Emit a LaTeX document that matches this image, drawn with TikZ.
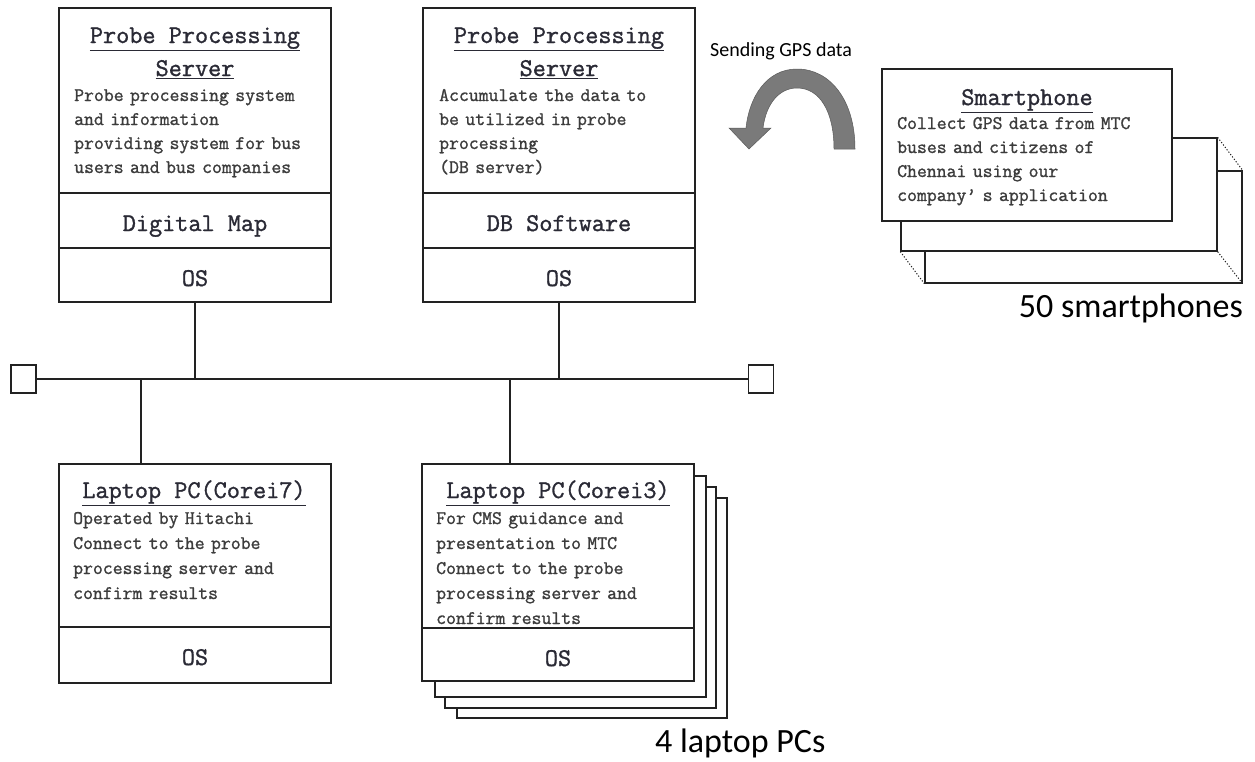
\documentclass[tikz,border=0pt]{standalone}
\usepackage{fontspec}
\setmonofont{Latin Modern Mono}
\newfontfamily\monob[FakeBold=1.2]{Latin Modern Mono}
\newfontfamily\calib{Carlito}
\definecolor{ln}{HTML}{222222}
\definecolor{tx}{HTML}{3C3C3C}
\definecolor{ttl}{HTML}{2A2A35}
\definecolor{arr}{HTML}{7A7A7A}
\definecolor{arredge}{HTML}{5A5A5A}
\begin{document}
\begin{tikzpicture}[x=1pt,y=-1pt,
  box/.style={draw=ln, line width=1.3pt, fill=white, inner sep=0pt},
  divider/.style={draw=ln, line width=1.3pt},
  wire/.style={draw=ln, line width=1.2pt},
  dotline/.style={draw=ln, line width=1pt, dash pattern=on 1.2pt off 1.8pt},
  titletxt/.style={font=\monob\fontsize{25.5}{33}\selectfont, text=ttl, inner sep=0pt, anchor=base},
  bodytxt/.style={font=\monob\fontsize{19.2}{24}\selectfont, text=tx, inner sep=0pt, anchor=base west, text width=300pt, align=left},
  labeltxt/.style={font=\calib\fontsize{34}{40}\selectfont, text=black, inner sep=0pt},
  term/.style={draw=ln, line width=1.2pt, fill=white, minimum width=25pt, minimum height=28pt, inner sep=0pt}
]
\useasboundingbox (0,0) rectangle (1255,761);

% ---------- Server 1 ----------
\node[box, minimum width=272pt, minimum height=294pt] (s1) at (195,155) {};
\node[titletxt] (s1t1) at (195,43) {\underline{Probe Processing}};
\node[titletxt] (s1t2) at (195,76) {\underline{Server}};
\node[bodytxt] (s1b) at (74,101) {Probe processing system\\and information\\providing system for bus\\users and bus companies};
\draw[divider] (59,193) -- (331,193);
\draw[divider] (59,248) -- (331,248);
\node[titletxt] (s1m) at (195,231) {Digital Map};
\node[titletxt] (s1o) at (195,286) {OS};

% ---------- Server 2 ----------
\node[box, minimum width=272pt, minimum height=294pt] (s2) at (559,155) {};
\node[titletxt] (s2t1) at (559,43) {\underline{Probe Processing}};
\node[titletxt] (s2t2) at (559,76) {\underline{Server}};
\node[bodytxt] (s2b) at (439,101) {Accumulate the data to\\be utilized in probe\\processing\\(DB server)};
\draw[divider] (423,193) -- (695,193);
\draw[divider] (423,248) -- (695,248);
\node[titletxt] (s2m) at (559,231) {DB Software};
\node[titletxt] (s2o) at (559,286) {OS};

% ---------- Bus ----------
\node[term] (lsq) at (23.5,379) {};
\node[term] (rsq) at (761,379) {};
\draw[wire] (lsq.east) -- (rsq.west);
\draw[wire] (s1.south) -- (s1.south |- lsq.east);
\draw[wire] (s2.south) -- (s2.south |- lsq.east);
\coordinate (d1) at (141,379);
\coordinate (d2) at (510,379);

% ---------- Laptop 1 ----------
\node[box, minimum width=272pt, minimum height=219pt] (l1) at (195,573.5) {};
\draw[wire] (d1) -- (d1 |- l1.north);
\node[titletxt] (l1t) at (194,498) {\underline{Laptop PC(Corei7)}};
\node[bodytxt, font=\monob\fontsize{19.2}{25}\selectfont] (l1b) at (73,524) {Operated by Hitachi\\Connect to the probe\\processing server and\\confirm results};
\draw[divider] (59,627) -- (331,627);
\node[titletxt] (l1o) at (195,665) {OS};

% ---------- Laptop 2 stack ----------
\node[box, minimum width=270pt, minimum height=220pt] (l2d) at (592,608) {};
\node[box, minimum width=271pt, minimum height=221pt] (l2c) at (580.5,597.5) {};
\node[box, minimum width=271pt, minimum height=221pt] (l2b) at (570.5,586.5) {};
\node[box, minimum width=272pt, minimum height=217pt] (l2) at (558,572.5) {};
\draw[wire] (d2) -- (d2 |- l2.north);
\node[titletxt] (l2t) at (558,498) {\underline{Laptop PC(Corei3)}};
\node[bodytxt, font=\monob\fontsize{19.2}{25}\selectfont] (l2bt) at (436,524) {For CMS guidance and\\presentation to MTC\\Connect to the probe\\processing server and\\confirm results};
\draw[divider] (422,628) -- (694,628);
\node[titletxt] (l2o) at (558,666) {OS};
\node[labeltxt, anchor=base west] (l2lab) at (655,752) {4 laptop PCs};

% ---------- Smartphone stack ----------
\node[box, minimum width=317pt, minimum height=112pt] (p3) at (1083.5,227) {};
\node[box, minimum width=316pt, minimum height=113pt] (p2) at (1059,194.5) {};
\node[box, minimum width=290pt, minimum height=152pt] (p1) at (1027,145) {};
\draw[dotline] (p2.north east) -- (p3.north east);
\draw[dotline] (p2.south west) -- (p3.south west);
\draw[dotline] (p2.south east) -- (p3.south east);
\node[titletxt] (p1t) at (1027,105) {\underline{Smartphone}};
\node[bodytxt] (p1b) at (897,129) {Collect GPS data from MTC\\buses and citizens of\\Chennai using our\\company’ s application};
\node[labeltxt, anchor=base east] (p1lab) at (1243,317) {50 smartphones};

% ---------- Curved arrow ----------
\node[font=\calib\fontsize{20}{24}\selectfont, inner sep=0pt, anchor=base west] (gps) at (710,56) {Sending GPS data};
\fill[arr, draw=arredge, line width=0.5pt]
  (855,149) .. controls (855,100) and (830,69) .. (797,69)
  .. controls (766,69) and (749,98) .. (746,128)
  -- (729,128) -- (749,149) -- (771,128) -- (763,128)
  .. controls (766,104) and (779,88) .. (797,88)
  .. controls (820,88) and (834,112) .. (834,149) -- cycle;
\end{tikzpicture}
\end{document}
